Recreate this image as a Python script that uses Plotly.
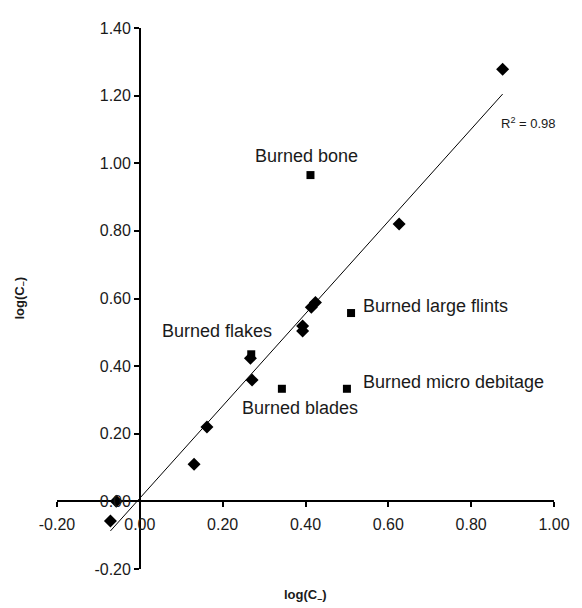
import numpy as np
import plotly.graph_objects as go

# Diamond series (regression data)
diamond_x = [0.876, 0.626, 0.414, 0.424, 0.393, 0.393, 0.267, 0.271, 0.162, 0.131, -0.057, -0.071]
diamond_y = [1.278, 0.820, 0.574, 0.588, 0.519, 0.504, 0.423, 0.359, 0.220, 0.110, 0.000, -0.058]

# Burned samples (squares)
burned_names = ["Burned bone", "Burned large flints", "Burned flakes", "Burned blades", "Burned micro debitage"]
burned_x = [0.412, 0.510, 0.269, 0.343, 0.500]
burned_y = [0.965, 0.557, 0.435, 0.333, 0.333]

# Label positions (data coordinates) and anchors
label_x = [0.402, 0.533, 0.324, 0.243, 0.533]
label_y = [1.020, 0.577, 0.504, 0.275, 0.354]
label_anchor = ["center", "left", "right", "left", "left"]

r2_text = "R<sup>2</sup> = 0.98"

x_tick_vals = [-0.2, 0.0, 0.2, 0.4, 0.6, 0.8, 1.0]
x_tick_text = ["-0.20", "0.00", "0.20", "0.40", "0.60", "0.80", "1.00"]
y_tick_vals = [-0.2, 0.0, 0.2, 0.4, 0.6, 0.8, 1.0, 1.2, 1.4]
y_tick_text = ["-0.20", "0.00", "0.20", "0.40", "0.60", "0.80", "1.00", "1.20", "1.40"]

x_title = "log(C<sub>–</sub>)"
y_title = "log(C<sub>–</sub>)"

FONT = "Arial, Liberation Sans, sans-serif"
TXT = "#1a1a1a"

slope, intercept = np.polyfit(diamond_x, diamond_y, 1)
fit_x = np.array([min(diamond_x), max(diamond_x)])
fit_y = slope * fit_x + intercept

fig = go.Figure()
fig.add_trace(go.Scatter(x=fit_x, y=fit_y, mode="lines",
                         line=dict(color="black", width=1), hoverinfo="skip"))
fig.add_trace(go.Scatter(x=diamond_x, y=diamond_y, mode="markers",
                         marker=dict(symbol="diamond", size=10, color="black")))
fig.add_trace(go.Scatter(x=burned_x, y=burned_y, mode="markers",
                         marker=dict(symbol="square", size=8, color="black")))

for name, lx, ly, anc in zip(burned_names, label_x, label_y, label_anchor):
    fig.add_annotation(x=lx, y=ly, text=name, showarrow=False, xanchor=anc, yanchor="middle",
                       font=dict(family=FONT, size=18, color=TXT))

fig.add_annotation(x=0.938, y=1.119, text=r2_text, showarrow=False, xanchor="center", yanchor="middle",
                   font=dict(family=FONT, size=13, color=TXT))

# Axis titles
fig.add_annotation(xref="paper", yref="paper", x=0.5, y=0, yshift=-26, yanchor="middle",
                   text="<b>" + x_title + "</b>", showarrow=False,
                   font=dict(family=FONT, size=13, color=TXT))
fig.add_annotation(xref="paper", yref="paper", x=0, xshift=-37, y=0.5, xanchor="center",
                   text="<b>" + y_title + "</b>", showarrow=False, textangle=-90,
                   font=dict(family=FONT, size=13, color=TXT))

fig.update_layout(
    width=574, height=600,
    margin=dict(l=49, r=23, t=12, b=39),
    paper_bgcolor="white", plot_bgcolor="white",
    showlegend=False,
    xaxis=dict(range=[-0.2, 1.0], anchor="free", position=0.125,
               showgrid=False, zeroline=False, showline=True, linecolor="black", linewidth=1.5,
               ticks="outside", ticklen=5, tickcolor="black", tickwidth=1.5,
               ticklabelstandoff=4,
               tickvals=x_tick_vals, ticktext=x_tick_text,
               tickfont=dict(family=FONT, size=16, color=TXT)),
    yaxis=dict(range=[-0.2, 1.4], anchor="free", position=1/6,
               showgrid=False, zeroline=False, showline=True, linecolor="black", linewidth=1.5,
               ticks="outside", ticklen=5, tickcolor="black", tickwidth=1.5,
               tickvals=y_tick_vals, ticktext=y_tick_text,
               tickfont=dict(family=FONT, size=16, color=TXT)),
)

fig.write_html("out.html")
